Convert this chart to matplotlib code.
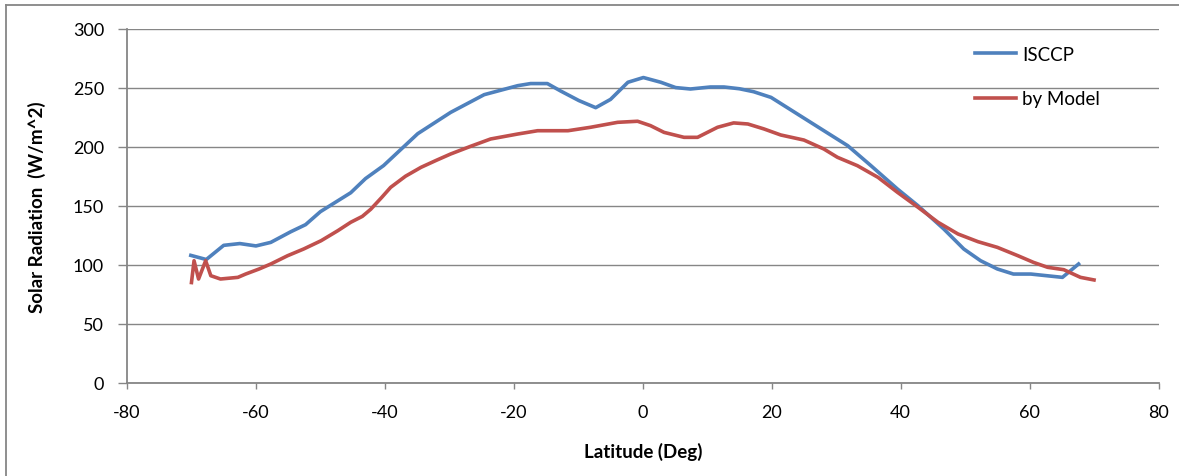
import matplotlib
matplotlib.use("Agg")
import matplotlib.pyplot as plt
from matplotlib.lines import Line2D

plt.rcParams['font.family'] = ['Lato', 'DejaVu Sans']
plt.rcParams['axes.unicode_minus'] = False

isccp_lat = [-70.1, -67.7, -65.0, -62.5, -60.0, -57.7, -54.6, -52.3, -50.0, -45.3, -43.0,
             -40.2, -34.9, -29.8, -24.6, -19.4, -17.4, -14.8, -12.7, -9.9, -7.3, -5.0,
             -2.3, 0.1, 2.8, 5.1, 7.4, 10.5, 12.6, 15.0, 17.2, 19.9, 24.0, 28.1, 31.8,
             35.4, 39.5, 42.7, 46.7, 49.8, 52.4, 55.0, 57.5, 60.2, 65.1, 67.6]
isccp_val = [108, 104.5, 116.5, 118, 116, 119, 128, 134, 145, 161, 173,
             184, 211, 229, 244, 251.6, 253.4, 253.4, 247, 239, 233, 240,
             254.5, 258.5, 254.5, 250, 248.8, 250.5, 250.5, 249, 246.5, 241.7, 227.6, 213.5, 200.8,
             183.9, 164.2, 150, 130.3, 113.4, 103.5, 96.5, 92.2, 92.2, 89.4, 100.7]

model_lat = [-70.0, -69.6, -68.9, -67.8, -67.0, -65.5, -62.8, -61.6, -59.5, -57.7, -55.1,
             -52.6, -49.9, -47.3, -45.3, -43.5, -42.2, -40.5, -39.1, -36.8, -34.4, -32.0, -29.8,
             -26.7, -23.6, -19.4, -16.3, -11.6, -8.1, -3.9, -0.8, 1.2, 3.3, 6.4, 8.5, 11.6,
             14.1, 16.3, 18.8, 21.4, 25.0, 28.1, 30.2, 33.3, 36.5, 39.5, 42.7, 45.8, 48.9,
             52.0, 55.0, 58.2, 60.6, 62.8, 65.3, 67.9, 70.0]
model_val = [85, 103.5, 88, 103.5, 90.8, 88, 89.4, 92.2, 96.5, 100.7, 107.7,
             113.4, 120.4, 128.9, 136, 141, 147, 157, 165.6, 175, 182.5, 188.5, 193.8,
             200.3, 206.5, 210.7, 213.5, 213.5, 216.4, 220.6, 221.5, 217.8, 212.1, 207.9, 207.9, 216.4,
             220.1, 219.2, 215, 209.9, 205.6, 198, 191, 183.9, 174, 161.4, 148.7, 136, 126.1,
             119.6, 114.8, 107.7, 102.1, 97.9, 95.9, 89.4, 87.2]

x_ticks = [-80, -60, -40, -20, 0, 20, 40, 60, 80]
y_ticks = [0, 50, 100, 150, 200, 250, 300]

W, H = 1179, 477
fig = plt.figure(figsize=(W / 100, H / 100), dpi=100)
ax = fig.add_axes([127 / W, 1 - 384 / H, (1158.5 - 127) / W, (384 - 29.5) / H])

grey = '#868686'
ax.plot(isccp_lat, isccp_val, color='#4F81BD', lw=2.6, label='ISCCP', solid_joinstyle='round')
ax.plot(model_lat, model_val, color='#C0504D', lw=2.6, label='by Model', solid_joinstyle='round')

ax.set_xlim(-80, 80)
ax.set_ylim(0, 300)
ax.set_xticks(x_ticks)
ax.set_yticks(y_ticks)
ax.yaxis.grid(True, color=grey, lw=1.0)
ax.set_axisbelow(True)
for s in ['top', 'right']:
    ax.spines[s].set_visible(False)
for s in ['left', 'bottom']:
    ax.spines[s].set_color(grey)
    ax.spines[s].set_linewidth(1.3)
ax.tick_params(axis='both', direction='out', width=1, color=grey,
               labelsize=13, labelcolor='black')
ax.tick_params(axis='x', length=4, pad=11)
ax.tick_params(axis='y', length=6.5, pad=10)

ax.set_xlabel('Latitude (Deg)', fontsize=13.5, fontweight='bold', labelpad=16)
ax.set_ylabel('Solar Radiation  (W/m^2)', fontsize=13.5, fontweight='bold', labelpad=19)

ax.legend(loc='upper left', bbox_to_anchor=(975 / W, 1 - 47 / H), bbox_transform=fig.transFigure,
          frameon=False, fontsize=13.5, handlelength=2.2, handletextpad=0.3,
          labelspacing=1.45, borderpad=0, borderaxespad=0)

# figure border (top and left)
fig.add_artist(Line2D([6 / W, 1], [1 - 6 / H, 1 - 6 / H], transform=fig.transFigure, color=grey, lw=1.3))
fig.add_artist(Line2D([6 / W, 6 / W], [0, 1 - 6 / H], transform=fig.transFigure, color=grey, lw=1.3))

fig.savefig('out.png', dpi=100)
